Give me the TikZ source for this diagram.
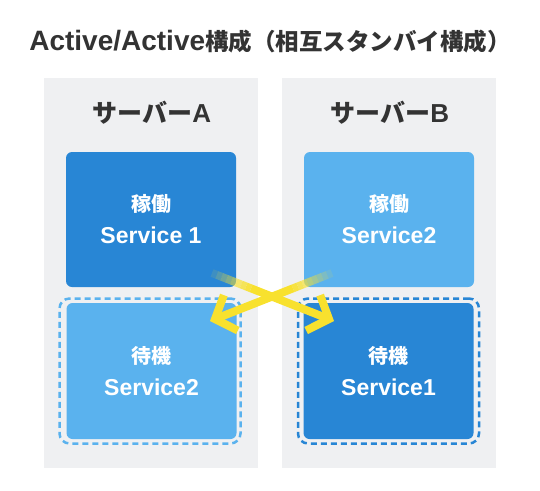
\documentclass[tikz,border=0pt]{standalone}
\usepackage{fontspec}
\setmainfont{Liberation Sans}
\newfontfamily\jpfont{Noto Sans CJK JP}
\usetikzlibrary{arrows.meta}
\usetikzlibrary{calc}

\definecolor{panelgray}{HTML}{EFF0F2}
\definecolor{activeblue}{HTML}{2886D5}
\definecolor{standbyblue}{HTML}{5AB2EE}
\definecolor{swapyellow}{HTML}{F8E12E}
\definecolor{titlegray}{HTML}{333333}

\begin{document}
\begin{tikzpicture}[x=1pt, y=-1pt,
    panel/.style={fill=panelgray, minimum width=214pt, minimum height=390pt, inner sep=0pt, anchor=north west},
    servername/.style={text=titlegray, font=\bfseries\fontsize{26}{30}\selectfont},
    svcbox/.style={rounded corners=6pt, minimum width=170pt, minimum height=135pt, inner sep=0pt,
        text=white, align=center, font=\bfseries\fontsize{23}{32}\selectfont},
    standby/.style={draw, line width=2.5pt, rounded corners=10pt, dash pattern=on 6pt off 4pt,
        minimum width=181pt, minimum height=145pt, inner sep=0pt},
    swapline/.style={draw=swapyellow, line width=8pt},
    swaparrow/.style={swapline, -{Straight Barb[length=17pt, width=38pt]}}]

    \useasboundingbox (0,0) rectangle (540,490);

    % title
    \node[text=titlegray, font=\bfseries\fontsize{28}{32}\selectfont] (title) at (270,42)
        {Active/Active{\jpfont\fontsize{23.5}{32}\selectfont 構成（相互スタンバイ構成）}};

    % server panels
    \node[panel] (panelA) at (44,78) {};
    \node[panel] (panelB) at (282,78) {};
    \node[servername] (nameA) at (152,113) {{\jpfont\fontsize{25}{30}\selectfont サーバー}A};
    \node[servername] (nameB) at (390,113) {{\jpfont\fontsize{25}{30}\selectfont サーバー}B};

    % server A
    \begin{scope}
        \node[svcbox, fill=activeblue] (runA) at (151,219.5)
            {{\jpfont\fontsize{20}{32}\selectfont 稼働}\\Service 1};
        \node[standby, draw=standbyblue] (waitframeA) at (150,371) {};
        \node[svcbox, fill=standbyblue, minimum height=136pt] (waitA) at (151.5,371)
            {{\jpfont\fontsize{20}{31}\selectfont 待機}\\Service2};
    \end{scope}

    % server B
    \begin{scope}
        \node[svcbox, fill=standbyblue] (runB) at (389,219.5)
            {{\jpfont\fontsize{20}{32}\selectfont 稼働}\\Service2};
        \node[standby, draw=activeblue] (waitframeB) at (388.5,371) {};
        \node[svcbox, fill=activeblue, minimum height=136pt] (waitB) at (388.5,371)
            {{\jpfont\fontsize{20}{31}\selectfont 待機}\\Service1};
    \end{scope}

    % failover arrows (faded start drawn in short pieces)
    \coordinate (fromA) at (212,273);
    \coordinate (toB) at (334,321);
    \coordinate (fromB) at (332,273);
    \coordinate (toA) at (210,321);
    \foreach \s/\e in {fromB/toA, fromA/toB} {
        \foreach \i in {1,...,8} {
            \draw[swapline, opacity=\i/9]
                ($(\s)!{(\i-1)*0.04}!(\e)$) -- ($(\s)!{\i*0.04}!(\e)$);
        }
        \draw[swaparrow] ($(\s)!0.32!(\e)$) -- (\e);
    }

\end{tikzpicture}
\end{document}
